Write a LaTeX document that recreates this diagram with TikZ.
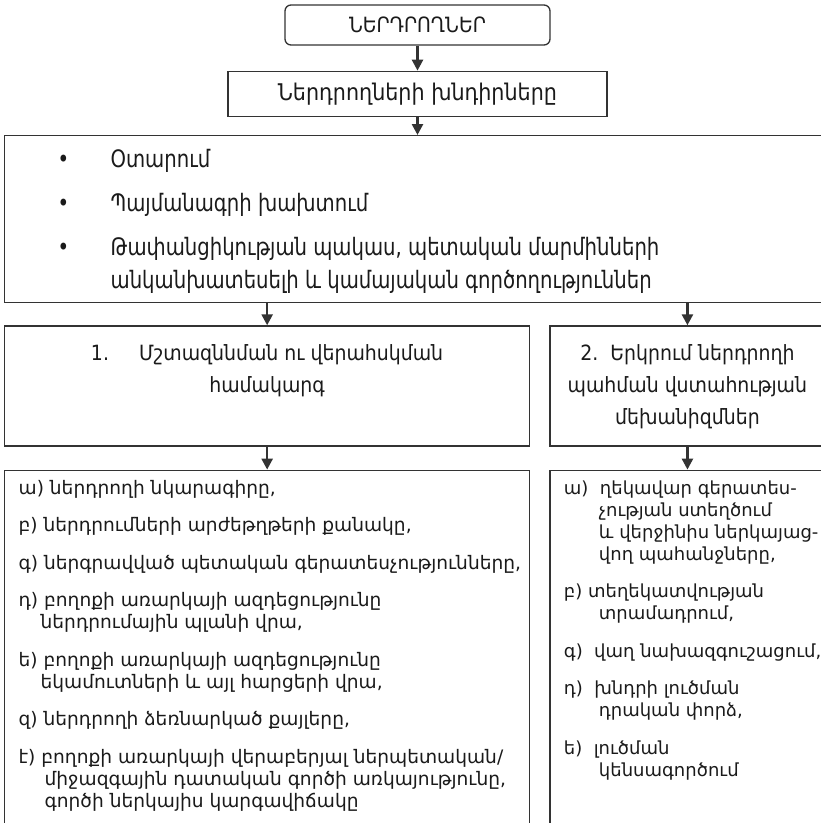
\documentclass[tikz,border=0pt]{standalone}
\usepackage{fontspec}
\setmainfont{DejaVu Sans}
\newfontfamily\condfont{DejaVu Sans Condensed}
\newfontfamily\narrowfont{DejaVu Sans Condensed}[FakeStretch=0.91]
\usepackage{xcolor}
\usetikzlibrary{arrows.meta, positioning}

\definecolor{linegray}{HTML}{333333}
\definecolor{textgray}{HTML}{1A1A1A}

\newcommand{\boxtext}[3]{\parbox[t][#1][t]{#2}{#3}}

\begin{document}
\begin{tikzpicture}[
    x=1pt, y=1pt,
    node distance=20pt,
    every node/.style={inner sep=0pt, text=textgray},
    topbox/.style={rectangle, rounded corners=6pt, draw=linegray, line width=1.3pt, minimum width=265pt, minimum height=40pt, font=\condfont\fontsize{21}{26}\selectfont},
    titlebox/.style={rectangle, draw=linegray, line width=1.3pt, minimum width=379pt, minimum height=45pt, font=\condfont\fontsize{23}{26}\selectfont},
    listbox/.style={rectangle, draw=linegray, line width=1.3pt, anchor=north west, font=\narrowfont\fontsize{24}{33}\selectfont},
    headbox/.style={rectangle, draw=linegray, line width=1.3pt, font=\condfont\fontsize{21}{32}\selectfont},
    itembox/.style={rectangle, draw=linegray, line width=1.3pt, font=\fontsize{18}{22}\selectfont},
    arrow/.style={line width=2.5pt, draw=linegray, -{Triangle[width=11pt,length=11pt]}}
]
\useasboundingbox (0,0) rectangle (821,-823);
\clip (0,0) rectangle (821,-823);

% Top
\node (investors) [topbox] at (417.5,-25) {ՆԵՐԴՐՈՂՆԵՐ};
\node (problems) [titlebox, below=25pt of investors] {Ներդրողների խնդիրները};

% Risks
\node (risks) [listbox] at (4,-135) {\boxtext{167pt}{819pt}{\vspace*{9pt}%
\hspace*{53pt}\makebox[53pt][l]{•}\strut Օտարում\\[11pt]
\hspace*{53pt}\makebox[53pt][l]{•}Պայմանագրի խախտում\\[11pt]
\hspace*{53pt}\makebox[53pt][l]{•}Թափանցիկության պակաս, պետական մարմինների\\
\hspace*{106pt}անկանխատեսելի և կամայական գործողություններ}};

% Two directions
\node (monitoring) [headbox, below=22pt of risks.south west, anchor=north west] {\boxtext{120pt}{525pt}{\centering\vspace*{12.5pt}%
\strut 1.\hspace{30pt}Մշտազննման ու վերահսկման\\
համակարգ}};
\node (trust) [headbox, right=19pt of monitoring] {\boxtext{120pt}{275pt}{\centering\vspace*{12.5pt}%
\strut 2.\ \ Երկրում ներդրողի\\
պահման վստահության\\
մեխանիզմներ}};

% Details
\node (profile) [itembox, font=\fontsize{18.6}{22}\selectfont, below=23pt of monitoring.south west, anchor=north west] {\boxtext{370pt}{525pt}{\vspace*{8.5pt}\leftskip=14pt
\strut ա) ներդրողի նկարագիրը,\\[15.5pt]
բ) ներդրումների արժեթղթերի քանակը,\\[15.5pt]
գ) ներգրավված պետական գերատեսչությունները,\\[15.5pt]
դ) բողոքի առարկայի ազդեցությունը\\
\hspace*{22pt}ներդրումային պլանի վրա,\\[15.5pt]
ե) բողոքի առարկայի ազդեցությունը\\
\hspace*{22pt}եկամուտների և այլ հարցերի վրա,\\[15.5pt]
զ) ներդրողի ձեռնարկած քայլերը,\\[15.5pt]
է) բողոքի առարկայի վերաբերյալ ներպետական/\\
\hspace*{26pt}միջազգային դատական գործի առկայությունը,\\
\hspace*{26pt}գործի ներկայիս կարգավիճակը\par}};
\node (measures) [itembox, right=19pt of profile] {\boxtext{370pt}{275pt}{\vspace*{8.5pt}\leftskip=14pt
\strut ա)\ \ ղեկավար գերատես-\\
\hspace*{35pt}չության ստեղծում\\
\hspace*{35pt}և վերջինիս ներկայաց-\\
\hspace*{35pt}վող պահանջները,\\[15.5pt]
բ) տեղեկատվության\\
\hspace*{35pt}տրամադրում,\\[15.5pt]
գ)\ \ վաղ նախազգուշացում,\\[15.5pt]
դ)\ \ խնդրի լուծման\\
\hspace*{35pt}դրական փորձ,\\[15.5pt]
ե)\ \ լուծման\\
\hspace*{35pt}կենսագործում\par}};

% Arrows
\draw [arrow] (investors) -- (problems);
\draw [arrow] (problems) -- (problems |- risks.north);
\draw [arrow] (monitoring |- risks.south) -- (monitoring);
\draw [arrow] (trust |- risks.south) -- (trust);
\draw [arrow] (monitoring) -- (profile);
\draw [arrow] (trust) -- (measures);

\end{tikzpicture}
\end{document}
